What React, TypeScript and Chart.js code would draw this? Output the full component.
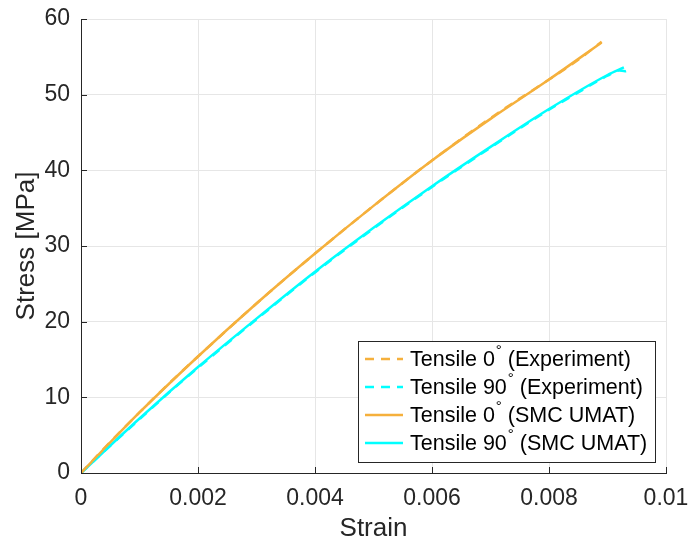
import React, { useEffect, useRef } from "react";
import { Chart, registerables } from "chart.js";
Chart.register(...registerables);

// Tick values
const xTickValues = [0, 0.002, 0.004, 0.006, 0.008, 0.01];
const yTickValues = [0, 10, 20, 30, 40, 50, 60];

// Tensile 0° experiment
const strain0Exp = [0, 0.0005, 0.001, 0.0015, 0.002, 0.003, 0.004, 0.005, 0.006, 0.007, 0.008, 0.0085, 0.0089];
const stress0Exp = [0, 4.1, 8.0, 11.8, 15.4, 22.4, 29.0, 35.3, 41.3, 46.9, 52.0, 54.6, 57.0];
// Tensile 90° experiment
const strain90Exp = [0, 0.0005, 0.001, 0.0015, 0.002, 0.003, 0.004, 0.005, 0.006, 0.007, 0.008, 0.0085, 0.009, 0.0092, 0.0093, 0.0094];
const stress90Exp = [0, 3.6, 7.1, 10.6, 13.9, 20.3, 26.5, 32.3, 37.8, 43.0, 48.0, 50.3, 52.5, 53.2, 53.1, 53.6];
// Tensile 0° SMC UMAT
const strain0Sim = [0, 0.001, 0.002, 0.003, 0.004, 0.005, 0.006, 0.007, 0.008, 0.0089];
const stress0Sim = [0, 8.0, 15.4, 22.4, 29.0, 35.3, 41.3, 46.8, 52.0, 56.9];
// Tensile 90° SMC UMAT
const strain90Sim = [0, 0.001, 0.002, 0.003, 0.004, 0.005, 0.006, 0.007, 0.008, 0.009, 0.00928];
const stress90Sim = [0, 7.2, 14.0, 20.4, 26.6, 32.4, 37.9, 43.1, 48.1, 52.6, 53.6];

const seriesNames = [
  ["Tensile 0", " (Experiment)"],
  ["Tensile 90", " (Experiment)"],
  ["Tensile 0", " (SMC UMAT)"],
  ["Tensile 90", " (SMC UMAT)"],
];
const ORANGE = "#f5b03c";
const CYAN = "#00ffff";

const pts = (xs: number[], ys: number[]) => xs.map((x, i) => ({ x, y: ys[i] }));

const FONT = "'Liberation Sans', Arial, Helvetica, sans-serif";

export default function App() {
  const ref = useRef<HTMLCanvasElement>(null);
  useEffect(() => {
    document.body.style.margin = "0";
    const tickPlugin = {
      id: "inTicks",
      afterDatasetsDraw(chart: any) {
        const { ctx, chartArea: a, scales } = chart;
        ctx.save();
        ctx.strokeStyle = "#262626";
        ctx.lineWidth = 1;
        ctx.beginPath();
        for (const v of xTickValues) {
          const px = Math.round(scales.x.getPixelForValue(v)) + 0.5;
          ctx.moveTo(px, a.bottom);
          ctx.lineTo(px, a.bottom - 6);
        }
        for (const v of yTickValues) {
          const py = Math.round(scales.y.getPixelForValue(v)) + 0.5;
          ctx.moveTo(a.left, py);
          ctx.lineTo(a.left + 6, py);
        }
        ctx.stroke();
        // legend
        const lx = 358.5, ly = 341.5, lw = 297, lh = 121;
        ctx.fillStyle = "#ffffff";
        ctx.fillRect(lx, ly, lw, lh);
        ctx.strokeStyle = "#262626";
        ctx.strokeRect(lx, ly, lw, lh);
        const colors = [ORANGE, CYAN, ORANGE, CYAN];
        for (let i = 0; i < 4; i++) {
          const y = 359 + i * 28;
          ctx.strokeStyle = colors[i];
          ctx.lineWidth = 2.5;
          ctx.setLineDash(i < 2 ? [9, 7] : []);
          ctx.beginPath();
          ctx.moveTo(365, y);
          ctx.lineTo(403, y);
          ctx.stroke();
          ctx.setLineDash([]);
          ctx.fillStyle = "#000000";
          ctx.textBaseline = "middle";
          ctx.textAlign = "left";
          ctx.font = `21.5px ${FONT}`;
          const [a1, a2] = seriesNames[i];
          ctx.fillText(a1, 410, y + 1);
          const w = ctx.measureText(a1).width;
          ctx.font = `15px ${FONT}`;
          ctx.fillText("°", 410 + w + 1, y - 8);
          const dw = ctx.measureText("°").width;
          ctx.font = `21.5px ${FONT}`;
          ctx.fillText(a2, 410 + w + 1 + dw, y + 1);
        }
        ctx.restore();
      },
    };
    const chart = new Chart(ref.current!, {
      type: "line",
      data: {
        datasets: [
          { data: pts(strain0Exp, stress0Exp), borderColor: ORANGE, borderDash: [9, 7], borderWidth: 2.5, pointRadius: 0, cubicInterpolationMode: "monotone" },
          { data: pts(strain90Exp, stress90Exp), borderColor: CYAN, borderDash: [9, 7], borderWidth: 2.5, pointRadius: 0, cubicInterpolationMode: "monotone" },
          { data: pts(strain0Sim, stress0Sim), borderColor: ORANGE, borderWidth: 2.5, pointRadius: 0, cubicInterpolationMode: "monotone" },
          { data: pts(strain90Sim, stress90Sim), borderColor: CYAN, borderWidth: 2.5, pointRadius: 0, cubicInterpolationMode: "monotone" },
        ] as any,
      },
      options: {
        responsive: false,
        animation: false,
        layout: { padding: { left: 0, right: 23, top: 19, bottom: 0 } },
        plugins: { legend: { display: false }, tooltip: { enabled: false } },
        scales: {
          x: {
            type: "linear",
            min: 0,
            max: 0.01,
            afterBuildTicks: (s: any) => { s.ticks = xTickValues.map((v) => ({ value: v })); },
            afterFit: (s: any) => { s.height = 71; s.paddingLeft = 0; s.paddingRight = 0; },
            ticks: {
              color: "#262626",
              font: { size: 23, family: FONT },
              padding: 12,
              maxRotation: 0,
              callback: (v: any) => String(Number(Number(v).toFixed(4))),
            },
            grid: { color: "#e6e6e6", drawTicks: false, tickLength: 0 },
            border: { color: "#262626", width: 1 },
            title: { display: true, text: "Strain", color: "#262626", font: { size: 26, family: FONT }, padding: { top: 0, bottom: 0 } },
          },
          y: {
            type: "linear",
            min: 0,
            max: 60,
            afterBuildTicks: (s: any) => { s.ticks = yTickValues.map((v) => ({ value: v })); },
            afterFit: (s: any) => { s.width = 81; s.paddingTop = 0; s.paddingBottom = 0; },
            ticks: {
              color: "#262626",
              font: { size: 23, family: FONT },
              padding: 11,
            },
            grid: { color: "#e6e6e6", drawTicks: false, tickLength: 0 },
            border: { color: "#262626", width: 1 },
            title: { display: true, text: "Stress [MPa]", color: "#262626", font: { size: 26, family: FONT }, padding: { top: 11, bottom: 0 } },
          },
        },
      } as any,
      plugins: [tickPlugin],
    });
    return () => chart.destroy();
  }, []);
  return (
    <div style={{ width: 689, height: 544, background: "#fff" }}>
      <canvas ref={ref} width={689} height={544} style={{ display: "block" }} />
    </div>
  );
}
